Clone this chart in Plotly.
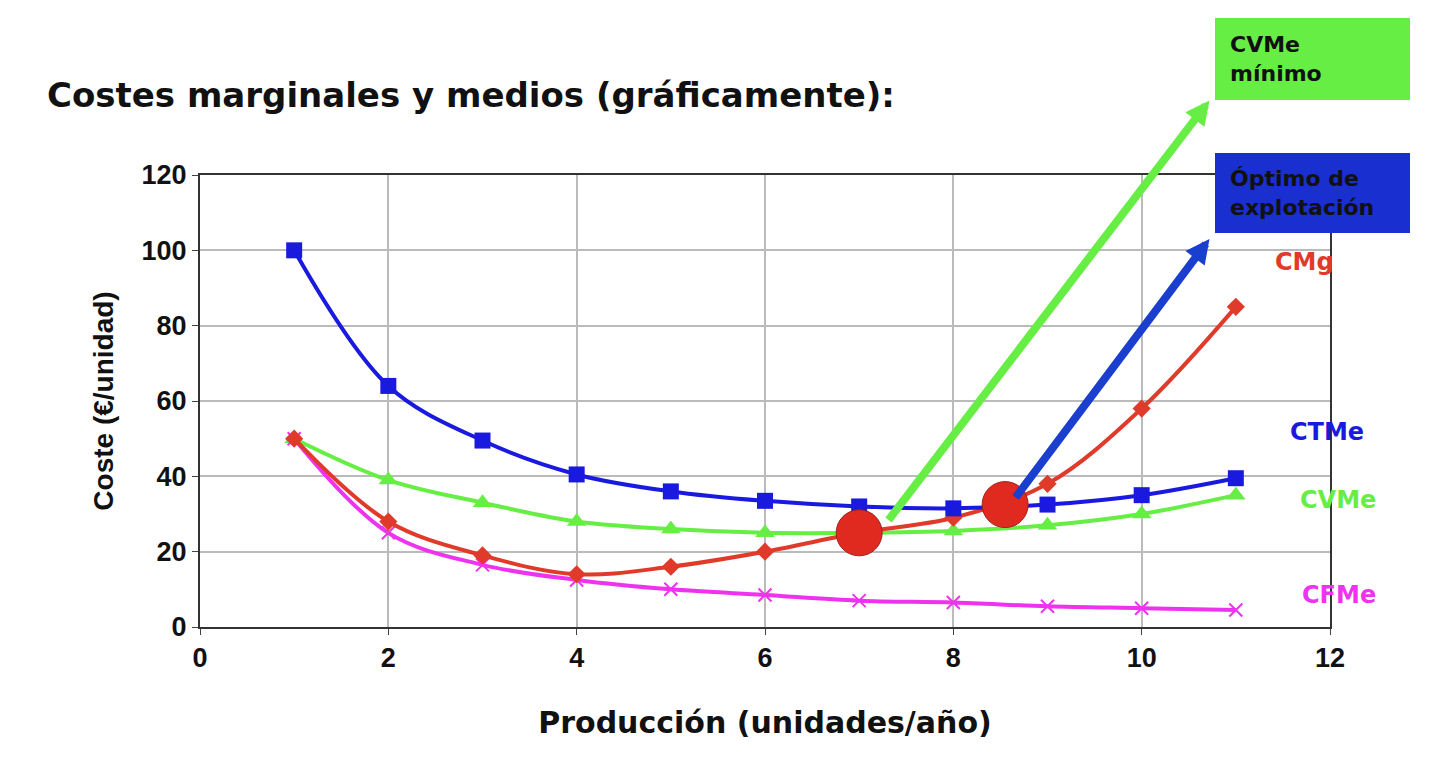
import plotly.graph_objects as go

x = [1, 2, 3, 4, 5, 6, 7, 8, 9, 10, 11]
ctme = [100, 64, 49.5, 40.5, 36, 33.5, 32, 31.5, 32.5, 35, 39.5]
cvme = [50, 39, 33, 28, 26, 25, 25, 25.5, 27, 30, 35]
cmg = [50, 28, 19, 14, 16, 20, 25, 29, 38, 58, 85]
cfme = [50, 25, 16.5, 12.5, 10, 8.5, 7, 6.5, 5.5, 5, 4.5]
pts_x = [7, 8.55]
pts_y = [25, 32.5]

fig = go.Figure()
fig.add_trace(go.Scatter(x=x, y=cfme, mode="lines+markers", line=dict(color="#ee33ee", width=4, shape="spline"),
                         marker=dict(symbol="x-thin", size=13, line=dict(color="#ee33ee", width=2))))
fig.add_trace(go.Scatter(x=x, y=cvme, mode="lines+markers", line=dict(color="#66ee44", width=4, shape="spline"),
                         marker=dict(symbol="triangle-up", size=17, color="#66ee44")))
fig.add_trace(go.Scatter(x=x, y=cmg, mode="lines+markers", line=dict(color="#e03a2a", width=4, shape="spline"),
                         marker=dict(symbol="diamond", size=14, color="#e03a2a")))
fig.add_trace(go.Scatter(x=x, y=ctme, mode="lines+markers", line=dict(color="#1a1adf", width=4, shape="spline"),
                         marker=dict(symbol="square", size=16, color="#1a1adf")))
fig.add_trace(go.Scatter(x=pts_x, y=pts_y, mode="markers", marker=dict(size=46, color="#e02a20", line=dict(color="#a02020", width=1))))

W, H = 1130, 452
def px(p): return (p - 200) / W
def py(p): return (627 - p) / H

fig.add_annotation(x=10.72, y=139.8, ax=7.3, ay=28, xref="x", yref="y", axref="x", ayref="y",
                   showarrow=True, arrowhead=2, arrowsize=0.6, arrowwidth=8, arrowcolor="#66ee44", text="")
fig.add_annotation(x=10.72, y=103, ax=8.65, ay=34, xref="x", yref="y", axref="x", ayref="y",
                   showarrow=True, arrowhead=2, arrowsize=0.6, arrowwidth=8, arrowcolor="#1a3fcf", text="")

shapes = [
    dict(type="rect", xref="paper", yref="paper", x0=px(1215), x1=px(1410), y0=py(100), y1=py(18), fillcolor="#66ee44", line=dict(width=0)),
    dict(type="rect", xref="paper", yref="paper", x0=px(1215), x1=px(1410), y0=py(233), y1=py(153), fillcolor="#1a2fcf", line=dict(width=0)),
    dict(type="rect", xref="paper", yref="paper", x0=px(38), x1=px(1410), y0=py(5), y1=py(-2), fillcolor="#a8d84a", line=dict(width=0)),
]
fig.update_layout(shapes=shapes)

def lab(t, xp, yp, c, size=24, anchor="left"):
    fig.add_annotation(x=px(xp), y=py(yp), xref="paper", yref="paper", text=t, showarrow=False,
                       font=dict(color=c, size=size, family="DejaVu Sans"), xanchor=anchor, yanchor="middle", align="left")

lab("<b>CVMe<br>mínimo</b>", 1228, 59, "#111111", 22)
lab("<b>Óptimo de<br>explotación</b>", 1228, 193, "#111111", 22)
lab("<b>CMg</b>", 1273, 262, "#e03a2a")
lab("<b>CTMe</b>", 1288, 432, "#1a1adf")
lab("<b>CVMe</b>", 1298, 500, "#66ee44")
lab("<b>CFMe</b>", 1300, 595, "#ee33ee")
lab("<b>Costes marginales y medios (gráficamente):</b>", 45, 95, "#111111", 34)

tf = dict(size=27, family="Arial", color="#111")
fig.update_xaxes(range=[0, 12], dtick=2, showgrid=True, gridcolor="#bbbbbb", gridwidth=2, zeroline=False,
                 showline=True, linecolor="#333333", linewidth=2, mirror=True, tickprefix="<b>", ticksuffix="</b>",
                 tickfont=tf, ticks="outside", ticklen=6,
                 title=dict(text="<b>Producción (unidades/año)</b>", font=dict(size=30, family="DejaVu Sans", color="#111"), standoff=40))
fig.update_yaxes(range=[0, 120], dtick=20, showgrid=True, gridcolor="#bbbbbb", gridwidth=2, zeroline=False,
                 showline=True, linecolor="#333333", linewidth=2, mirror=True, tickprefix="<b>", ticksuffix="</b>",
                 tickfont=tf, ticks="outside", ticklen=6,
                 title=dict(text="<b>Coste (€/unidad)</b>", font=dict(size=28, family="Arial", color="#111"), standoff=20))
fig.update_layout(width=1440, height=774, margin=dict(l=192, r=118, t=167, b=155), showlegend=False,
                  plot_bgcolor="white", paper_bgcolor="white")
fig.write_html("out.html")
